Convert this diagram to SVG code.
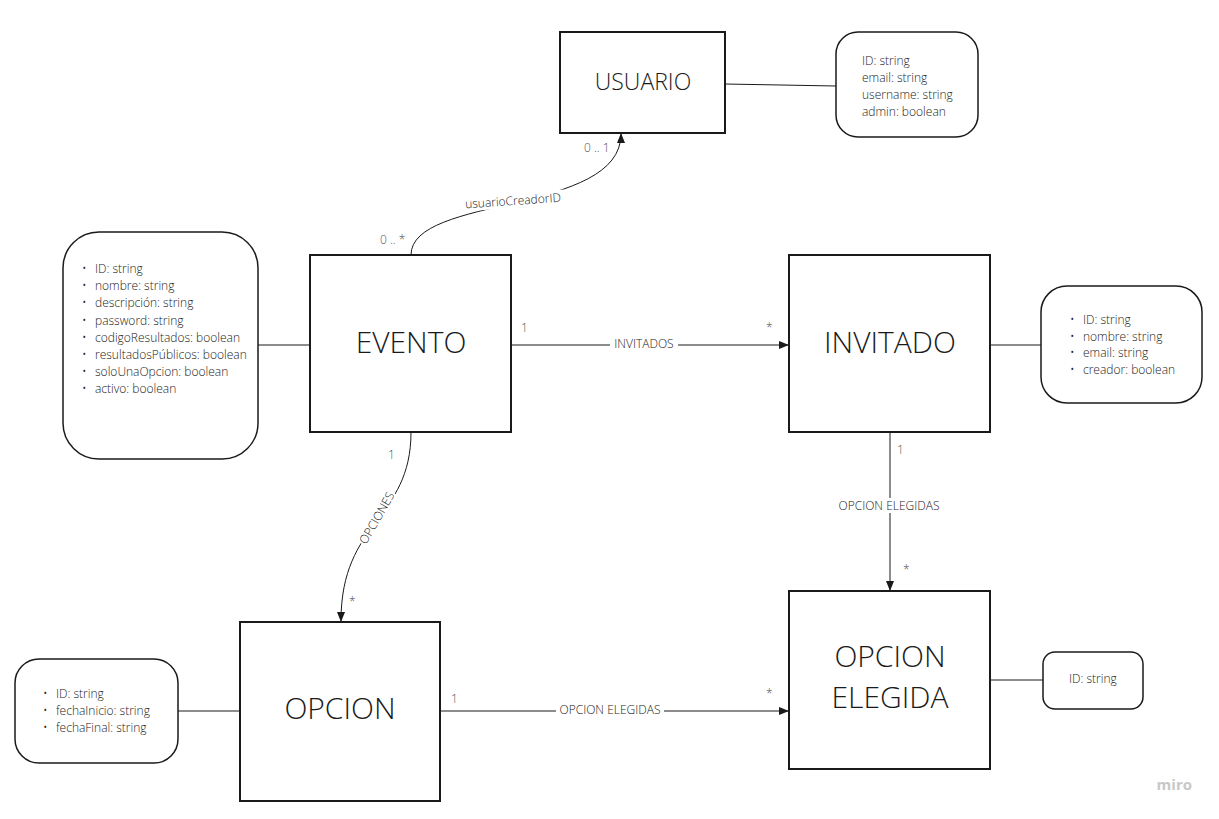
<svg xmlns="http://www.w3.org/2000/svg" width="1219" height="819" viewBox="0 0 1219 819">
<defs>
<marker id="arr" markerWidth="10" markerHeight="8" refX="9" refY="4" orient="auto" markerUnits="userSpaceOnUse">
<path d="M0,0 L10,4 L0,8 Z" fill="#1a1a1a"/>
</marker>
<style>
.ent{fill:#fff;stroke:#1a1a1a;stroke-width:2}
.attr{fill:#fff;stroke:#1a1a1a;stroke-width:1.5}
.title{font-family:"Open Sans","Liberation Sans",sans-serif;font-weight:300;fill:#1a1a1a;text-anchor:middle}
.at{font-family:"Open Sans","Liberation Sans",sans-serif;font-weight:300;font-size:12px;fill:#222}
.lnk{fill:none;stroke:#1a1a1a;stroke-width:1}
.lbl{font-family:"Open Sans","Liberation Sans",sans-serif;font-weight:300;font-size:12px;fill:#1a1a1a;text-anchor:middle}
.mul{font-family:"Open Sans","Liberation Sans",sans-serif;font-weight:300;font-size:12px;fill:#555}
.bg{fill:#fff}
</style>
</defs>
<rect width="1219" height="819" fill="#fff"/>

<g id="connectors">
<line class="lnk" x1="725" y1="84" x2="836" y2="86"/>
<line class="lnk" x1="258" y1="345" x2="310" y2="345"/>
<line class="lnk" x1="990" y1="345" x2="1041" y2="345"/>
<line class="lnk" x1="178" y1="711" x2="240" y2="711"/>
<line class="lnk" x1="990" y1="680" x2="1043" y2="680"/>

<path class="lnk" d="M411,255 C411,195 621,215 621,134" marker-end="url(#arr)"/>
<g transform="translate(513,201) rotate(-4)">
<rect class="bg" x="-51" y="-8" width="102" height="15"/>
<text class="lbl" x="0" y="4">usuarioCreadorID</text>
</g>
<text class="mul" x="380" y="244">0 .. *</text>
<text class="mul" x="584" y="152">0 .. 1</text>

<line class="lnk" x1="511" y1="345" x2="788" y2="345" marker-end="url(#arr)"/>
<rect class="bg" x="610" y="337" width="68" height="15"/>
<text class="lbl" x="644" y="348">INVITADOS</text>
<text class="mul" x="521" y="332">1</text>
<text class="mul" x="766" y="332">*</text>

<path class="lnk" d="M411,432 C411,520 341,520 341,621" marker-end="url(#arr)"/>
<g transform="translate(377,518) rotate(-60)">
<rect class="bg" x="-30" y="-8" width="60" height="15"/>
<text class="lbl" x="0" y="4">OPCIONES</text>
</g>
<text class="mul" x="388" y="459">1</text>
<text class="mul" x="349" y="606">*</text>

<line class="lnk" x1="890" y1="432" x2="890" y2="590" marker-end="url(#arr)"/>
<rect class="bg" x="836" y="498" width="106" height="15"/>
<text class="lbl" x="889" y="510">OPCION ELEGIDAS</text>
<text class="mul" x="897" y="454">1</text>
<text class="mul" x="903" y="574">*</text>

<line class="lnk" x1="440" y1="711" x2="788" y2="711" marker-end="url(#arr)"/>
<rect class="bg" x="556" y="703" width="108" height="15"/>
<text class="lbl" x="610" y="714">OPCION ELEGIDAS</text>
<text class="mul" x="451" y="703">1</text>
<text class="mul" x="766" y="698">*</text>
</g>

<g id="usuario">
<rect class="ent" x="560" y="32" width="165" height="101"/>
<text class="title" x="643" y="90" font-size="23">USUARIO</text>
</g>
<g id="usuario-attrs">
<rect class="attr" x="836" y="32" width="142" height="105" rx="22"/>
<text class="at" x="862" y="65">ID: string</text>
<text class="at" x="862" y="82">email: string</text>
<text class="at" x="862" y="99">username: string</text>
<text class="at" x="862" y="116">admin: boolean</text>
</g>

<g id="evento">
<rect class="ent" x="310" y="255" width="201" height="177"/>
<text class="title" x="411" y="353" font-size="30">EVENTO</text>
</g>
<g id="evento-attrs">
<rect class="attr" x="63" y="232" width="195" height="227" rx="36"/>
<g class="at">
<text x="82" y="273">•</text><text x="95" y="273">ID: string</text>
<text x="82" y="290">•</text><text x="95" y="290">nombre: string</text>
<text x="82" y="307">•</text><text x="95" y="307">descripción: string</text>
<text x="82" y="325">•</text><text x="95" y="325">password: string</text>
<text x="82" y="342">•</text><text x="95" y="342">codigoResultados: boolean</text>
<text x="82" y="359">•</text><text x="95" y="359">resultadosPúblicos: boolean</text>
<text x="82" y="376">•</text><text x="95" y="376">soloUnaOpcion: boolean</text>
<text x="82" y="393">•</text><text x="95" y="393">activo: boolean</text>
</g>
</g>

<g id="invitado">
<rect class="ent" x="789" y="255" width="201" height="177"/>
<text class="title" x="890" y="353" font-size="30">INVITADO</text>
</g>
<g id="invitado-attrs">
<rect class="attr" x="1041" y="286" width="161" height="117" rx="26"/>
<g class="at">
<text x="1070" y="324">•</text><text x="1083" y="324">ID: string</text>
<text x="1070" y="341">•</text><text x="1083" y="341">nombre: string</text>
<text x="1070" y="357">•</text><text x="1083" y="357">email: string</text>
<text x="1070" y="374">•</text><text x="1083" y="374">creador: boolean</text>
</g>
</g>

<g id="opcion">
<rect class="ent" x="240" y="622" width="200" height="179"/>
<text class="title" x="340" y="719" font-size="30">OPCION</text>
</g>
<g id="opcion-attrs">
<rect class="attr" x="15" y="659" width="163" height="104" rx="24"/>
<g class="at">
<text x="43" y="698">•</text><text x="56" y="698">ID: string</text>
<text x="43" y="715">•</text><text x="56" y="715">fechaInicio: string</text>
<text x="43" y="732">•</text><text x="56" y="732">fechaFinal: string</text>
</g>
</g>

<g id="opcion-elegida">
<rect class="ent" x="789" y="591" width="201" height="178"/>
<text class="title" x="890" y="667" font-size="30">OPCION</text>
<text class="title" x="890" y="708" font-size="30">ELEGIDA</text>
</g>
<g id="opcion-elegida-attrs">
<rect class="attr" x="1043" y="652" width="100" height="57" rx="12"/>
<text class="at" x="1069" y="683">ID: string</text>
</g>

<text x="1192" y="790" font-family="Open Sans, Liberation Sans, sans-serif" font-size="15" font-weight="bold" fill="#c8c8c8" text-anchor="end">miro</text>
</svg>
